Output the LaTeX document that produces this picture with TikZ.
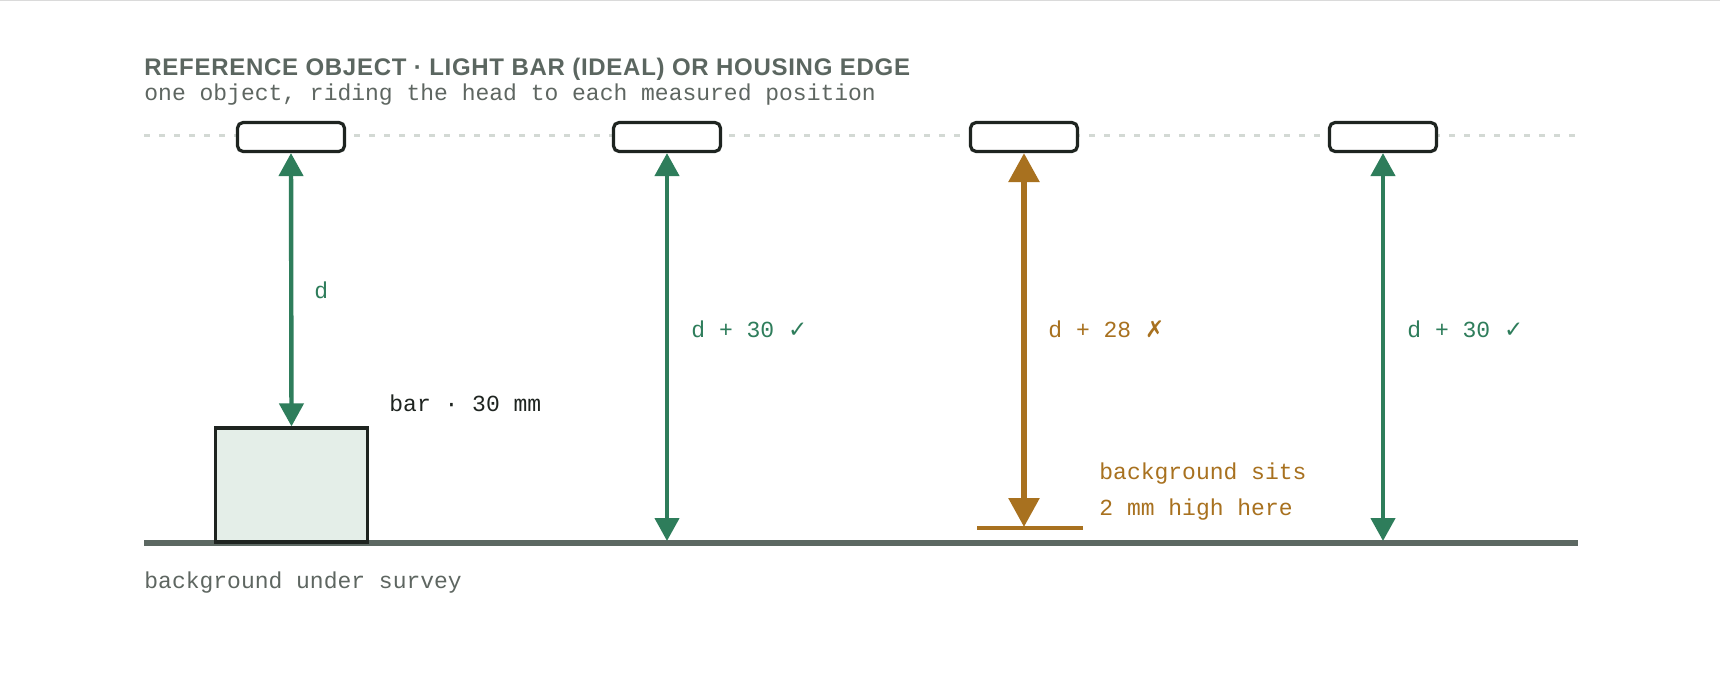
\documentclass[tikz,border=0pt]{standalone}
\usepackage{fontspec}
\usetikzlibrary{arrows.meta}
\setmainfont{Liberation Sans}
\newfontfamily\titlefont[LetterSpace=3]{Liberation Sans}
\newfontfamily\monofont{Liberation Mono}
\newfontfamily\symfont{DejaVu Sans}
\definecolor{titlegray}{HTML}{5B6660}
\definecolor{subgray}{HTML}{5E6661}
\definecolor{mgreen}{HTML}{2E7D5B}
\definecolor{ochre}{HTML}{A8711F}
\definecolor{boxdark}{HTML}{1E2420}
\definecolor{barfill}{HTML}{E4EEE8}
\definecolor{groundc}{HTML}{5C6862}
\definecolor{dotc}{HTML}{D3D9D4}
\definecolor{topline}{HTML}{DADADA}
\begin{document}
\begin{tikzpicture}[x=0.5pt,y=-0.5pt,
  headbox/.style={draw=boxdark,line width=1.6pt,fill=white,rounded corners=2.8pt,minimum width=53.5pt,minimum height=14.5pt,inner sep=0pt},
  barbox/.style={draw=boxdark,line width=1.6pt,fill=barfill,minimum width=76pt,minimum height=57pt,inner sep=0pt},
  garrow/.style={draw=mgreen,line width=2.2pt,{Triangle[length=11.5pt,width=12pt]}-{Triangle[length=11.5pt,width=12pt]}},
  oarrow/.style={draw=ochre,line width=2.9pt,{Triangle[length=14.5pt,width=15pt]}-{Triangle[length=14.5pt,width=15pt]}},
  monolabel/.style={font=\monofont\fontsize{11.5pt}{14pt}\selectfont,inner sep=0pt,anchor=base west},
]
\useasboundingbox (0,0) rectangle (1720,695);
\fill[white] (0,0) rectangle (1720,695);
\draw[topline,line width=1pt] (0,0.5) -- (1720,0.5);

% title
\node[font=\titlefont\bfseries\fontsize{12pt}{14pt}\selectfont,text=titlegray,inner sep=0pt,anchor=base west] (title) at (144,76) {REFERENCE OBJECT · LIGHT BAR (IDEAL) OR HOUSING EDGE};
\node[monolabel,text=subgray] (subtitle) at (144,101) {one object, riding the head to each measured position};

% dotted head line
\coordinate (dl) at (144,136);
\coordinate (dr) at (1578,136);
\draw[dotc,line width=1.5pt,dash pattern=on 2.9pt off 4.6pt] (dl) -- (dr);

% ground
\coordinate (gl) at (144,543);
\coordinate (gr) at (1578,543);
\draw[groundc,line width=2.6pt] (gl) -- (gr);

% heads
\node[headbox] (h1) at (291,137) {};
\node[headbox] (h2) at (667,137) {};
\node[headbox] (h3) at (1024,137) {};
\node[headbox] (h4) at (1383,137) {};

% bar
\node[barbox] (bar) at (291.5,485) {};

% targets
\coordinate (g2) at (667,541);
\coordinate (g4) at (1383,541);
\coordinate (fl) at (977,528);
\coordinate (fr) at (1083,528);
\coordinate (f3) at (1024,527);
\draw[ochre,line width=2pt] (fl) -- (fr);

% arrows
\draw[garrow] (h1.south) -- (bar.north);
\draw[garrow] (h2.south) -- (g2);
\draw[oarrow] (h3.south) -- (f3);
\draw[garrow] (h4.south) -- (g4);

% labels
\node[monolabel,text=mgreen] (l1) at (314,299) {d};
\node[monolabel,text=mgreen] (l2) at (691,338) {d + 30 {\symfont ✓}};
\node[monolabel,text=ochre] (l3) at (1048,338) {d + 28 {\symfont ✗}};
\node[monolabel,text=mgreen] (l4) at (1407,338) {d + 30 {\symfont ✓}};
\node[monolabel,text=boxdark] (lbar) at (389,412) {bar · 30 mm};
\node[monolabel,text=ochre] (lbg1) at (1099,480) {background sits};
\node[monolabel,text=ochre] (lbg2) at (1099,515) {2 mm high here};
\node[monolabel,text=subgray] (lground) at (144,588) {background under survey};
\end{tikzpicture}
\end{document}
